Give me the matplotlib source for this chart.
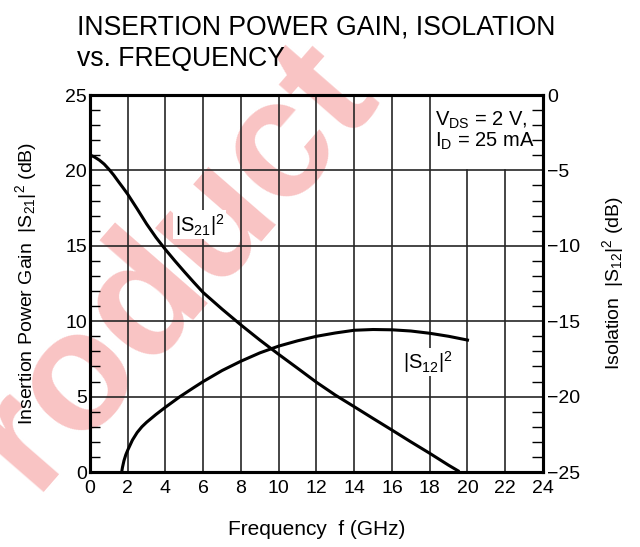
import matplotlib
matplotlib.use("Agg")
import matplotlib.pyplot as plt
import numpy as np
from matplotlib.ticker import MultipleLocator

plt.rcParams['font.family'] = ['Liberation Sans', 'DejaVu Sans']
plt.rcParams['mathtext.fontset'] = 'custom'
plt.rcParams['mathtext.rm'] = 'Liberation Sans'
plt.rcParams['mathtext.it'] = 'Liberation Sans'

## donnees
f_s21 = [0, 0.1, 0.25, 0.5, 0.75, 1, 1.25, 1.5, 1.75, 2, 2.5, 3, 3.5, 4, 4.5,
         5, 5.5, 6, 7, 8, 9, 10, 11, 12, 13, 14, 15, 16, 17, 18, 19, 19.5]
s21 = [21.0, 20.97, 20.88, 20.68, 20.42, 20.08, 19.7, 19.27, 18.85, 18.42,
       17.45, 16.45, 15.55, 14.75, 14.0, 13.28, 12.58, 11.9, 10.8, 9.75, 8.75,
       7.8, 6.88, 5.95, 5.1, 4.33, 3.55, 2.78, 2.0, 1.24, 0.45, 0.08]

f_s12 = [1.68, 1.72, 1.8, 1.9, 2.0, 2.25, 2.5, 2.75, 3.0, 3.5, 4, 4.77, 5.5,
         6, 7, 8, 9, 10, 11, 12, 13, 14, 15, 16, 17, 18, 19, 20]
s12 = [-25.0, -24.7, -24.25, -23.85, -23.55, -22.88, -22.38, -22.0, -21.7,
       -21.18, -20.7, -20.0, -19.4, -19.0, -18.27, -17.65, -17.1, -16.65,
       -16.3, -16.0, -15.78, -15.6, -15.55, -15.57, -15.65, -15.8, -16.0,
       -16.25]

x_ticks = np.arange(0, 25, 2)
gain_ticks = np.arange(0, 26, 5)
iso_ticks = np.arange(-25, 1, 5)

## fenetre
fig = plt.figure(figsize=(6.4, 5.47), dpi=100)
ax = fig.add_axes([0.1406, 0.1371, 0.7078, 0.6892])
ax.set_facecolor('none')

# filigrane
fig.text(0.213, 0.44, 'Product', fontsize=122, fontweight='bold',
         color='#f9c4c4', rotation=49, ha='center', va='center',
         zorder=-1)

fig.text(77/640, 1 - 14/547, "INSERTION POWER GAIN, ISOLATION\nvs. FREQUENCY",
         ha='left', va='top', fontsize=19.2, linespacing=1.3)

ax.set_xlim(0, 24)
ax.set_ylim(0, 25)

# quadrillage (les lignes 20 et 22 GHz s'arretent sous le cadre des conditions)
gc = '#262626'
for x in x_ticks[1:-1]:
    top = 20 if x >= 20 else 25
    ax.plot([x, x], [0, top], color=gc, lw=1.2, zorder=1)
for y in gain_ticks[1:-1]:
    ax.plot([0, 24], [y, y], color=gc, lw=1.2, zorder=1)

ax.plot(f_s21, s21, color='black', lw=2.2, zorder=3, solid_joinstyle='round')

ax.set_xticks(x_ticks)
ax.set_yticks(gain_ticks)
ax.yaxis.set_minor_locator(MultipleLocator(1))
ax.tick_params(axis='x', length=0, pad=6, labelsize=14)
ax.tick_params(axis='y', which='both', direction='in', length=7, width=1,
               pad=2, labelsize=14)
ax.tick_params(axis='y', which='major', length=0)
for s in ax.spines.values():
    s.set_linewidth(2.2)

ax.set_xlabel('Frequency  f (GHz)', fontsize=15, labelpad=16)
ax.set_ylabel(r'Insertion Power Gain  $|\mathrm{S}_{21}|^{2}$ (dB)',
              fontsize=14, labelpad=19)

ax.text(5.8, 16.4, r'$|\mathrm{S}_{21}|^{2}$', fontsize=14.5, ha='center',
        va='center', zorder=4,
        bbox=dict(facecolor='white', edgecolor='none', pad=1))
ax.text(17.9, 7.3, r'$|\mathrm{S}_{12}|^{2}$', fontsize=14.5, ha='center',
        va='center', zorder=4,
        bbox=dict(facecolor='white', edgecolor='none', pad=1))
ax.text(18.3, 24.0, 'V$_{\\mathrm{DS}}$ = 2 V,\nI$_{\\mathrm{D}}$ = 25 mA',
        fontsize=14.5, ha='left', va='top', linespacing=0.95, zorder=4)

## axe de droite : isolation
ax2 = ax.twinx()
ax2.set_ylim(-25, 0)
ax2.plot(f_s12, s12, color='black', lw=2.2, solid_joinstyle='round')
ax2.set_yticks(iso_ticks)
ax2.yaxis.set_minor_locator(MultipleLocator(1))
ax2.tick_params(axis='y', which='both', direction='in', length=8, width=1,
                pad=3, labelsize=14)
ax2.tick_params(axis='y', which='major', length=0)
for s in ax2.spines.values():
    s.set_linewidth(2.2)
ax2.set_ylabel(r'Isolation  $|\mathrm{S}_{12}|^{2}$ (dB)', fontsize=14,
               labelpad=14)

fig.savefig('out.png', dpi=100)
